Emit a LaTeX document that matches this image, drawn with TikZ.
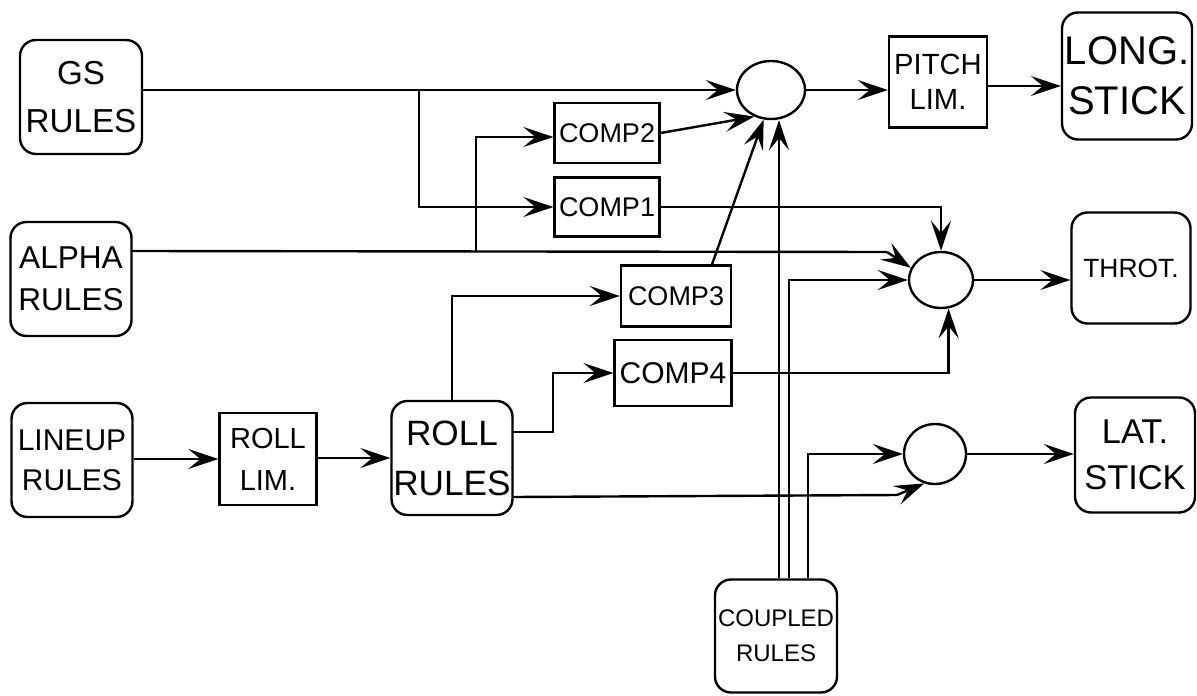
\documentclass[tikz,border=0pt]{standalone}
\usepackage{fontspec}
\setmainfont{Liberation Sans}
\usetikzlibrary{arrows.meta,calc,shapes.geometric}
\newcommand\myfs[2]{\fontsize{#1}{#2}\selectfont}
\tikzset{
  rbox/.style={draw,line width=1.2pt,rounded corners=8pt,align=center,inner sep=0pt},
  sbox/.style={draw,line width=1.2pt,align=center,inner sep=0pt},
  sumnode/.style={draw,line width=1.2pt,ellipse,inner sep=0pt},
  arr/.style={line width=1.2pt,-{Stealth[length=15pt,width=10pt,inset=6pt]}},
  ln/.style={line width=1.2pt}
}
\begin{document}
\begin{tikzpicture}[x=0.5pt,y=-0.5pt]
\useasboundingbox (0,0) rectangle (1197,695);
% rounded blocks
\node[rbox,minimum width=61pt,minimum height=57pt,font=\myfs{16.6}{24}] (gs) at (81,97) {GS\\RULES};
\node[rbox,minimum width=60.5pt,minimum height=57pt,font=\myfs{15.8}{21}] (alpha) at (71,279) {ALPHA\\RULES};
\node[rbox,minimum width=60.5pt,minimum height=57pt,font=\myfs{15}{20}] (lineup) at (72,460) {LINEUP\\RULES};
\node[rbox,minimum width=60.5pt,minimum height=57pt,font=\myfs{17.6}{25}] (roll) at (452,458) {ROLL\\RULES};
\node[rbox,minimum width=65pt,minimum height=63.5pt,font=\myfs{20}{25}] (long) at (1127,76) {LONG.\\STICK};
\node[rbox,minimum width=59.5pt,minimum height=55.5pt,font=\myfs{13.2}{16}] (throt) at (1131,268) {THROT.};
\node[rbox,minimum width=60pt,minimum height=57.5pt,font=\myfs{17.2}{23}] (lat) at (1135,455) {LAT.\\STICK};
\node[rbox,minimum width=61pt,minimum height=56.5pt,font=\myfs{12}{17.5}] (coupled) at (776,636) {COUPLED\\RULES};
% square blocks
\node[sbox,minimum width=48.5pt,minimum height=46pt,font=\myfs{14.5}{21}] (rolllim) at (268,459) {ROLL\\LIM.};
\node[sbox,minimum width=49pt,minimum height=45.5pt,font=\myfs{14.6}{17.5}] (pitch) at (938,82) {PITCH\\LIM.};
\node[sbox,minimum width=52.5pt,minimum height=30pt,font=\myfs{13.5}{15}] (comp2) at (607,133) {COMP2};
\node[sbox,minimum width=52.5pt,minimum height=29.5pt,font=\myfs{13.5}{15}] (comp1) at (607,207) {COMP1};
\node[sbox,minimum width=55pt,minimum height=30.5pt,font=\myfs{13.5}{15}] (comp3) at (676,296) {COMP3};
\node[sbox,minimum width=58.5pt,minimum height=33pt,font=\myfs{15}{16}] (comp4) at (673,373) {COMP4};
% summing junctions
\node[sumnode,minimum width=34pt,minimum height=29pt] (c1) at (771,90) {};
\node[sumnode,minimum width=32pt,minimum height=28pt] (c2) at (941,280) {};
\node[sumnode,minimum width=31pt,minimum height=30pt] (c3) at (935,454) {};
% helper coordinates
\coordinate (b1) at (419,90);
\coordinate (a0) at (132,251);
\coordinate (a1) at (476,251);
\coordinate (a2) at (887,252);
\coordinate (k1) at (779,0);
\coordinate (k2) at (789,0);
\coordinate (k3) at (808,0);
\coordinate (r0) at (513,497);
\coordinate (r1) at (897,495);
\coordinate (r2) at (513,432);
\coordinate (r3) at (553,432);
\coordinate (p1) at (0,86);
\coordinate (c3top) at ($(comp3.north)+(36,0)$);
% connectors
\draw[arr] (gs.east|-c1.west) -- (c1.west);
\draw[arr] (b1) |- (comp1.west);
\draw[ln] (a0) -- (a2);
\draw[arr] (a2) -- (c2.158);
\draw[arr] (a1) |- ($(comp2.west)+(0,4)$);
\draw[arr] (comp2.east) -- (c1.238);
\draw[arr] (c3top) -- (c1.256);
\draw[arr] (coupled.north-|k1) -- (c1.south-|k1);
\draw[arr] (c1.east) -- (pitch.west|-c1.east);
\draw[arr] (pitch.east|-p1) -- (long.west|-p1);
\draw[arr] (comp1.east) -| (c2.north);
\draw[arr] (comp4.east) -| (c2.285);
\draw[arr] (coupled.north-|k2) |- (c2.west);
\draw[arr] (c2.east) -- (throt.west|-c2.east);
\draw[ln] (r0) -- (r1);
\draw[arr] (r1) -- (c3.250);
\draw[arr] (coupled.north-|k3) |- (c3.west);
\draw[arr] (c3.east) -- (lat.west|-c3.east);
\draw[arr] (roll.north) |- (comp3.west);
\draw[arr] (r2) -- (r3) |- (comp4.west);
\draw[arr] (lineup.east|-rolllim.west) -- (rolllim.west);
\draw[arr] (rolllim.east|-roll.west) -- (roll.west);
\end{tikzpicture}
\end{document}
